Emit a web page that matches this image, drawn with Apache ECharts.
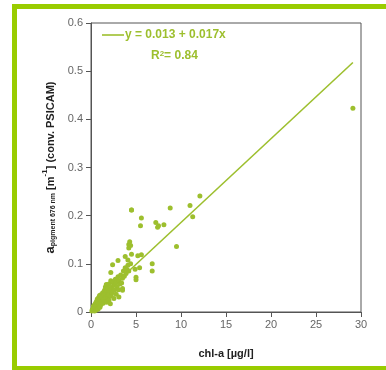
<!DOCTYPE html>
<html>
<head>
<meta charset="utf-8">
<style>
  html, body { margin: 0; padding: 0; background: #fff; }
  #chart { width: 386px; height: 370px; }
</style>
<script src="https://cdn.jsdelivr.net/npm/echarts@6/dist/echarts.min.js"></script>
</head>
<body>
<div id="chart"></div>
<script>
// axis ticks
const xTicks = [0, 5, 10, 15, 20, 25, 30]
const yTicks = [0, 0.1, 0.2, 0.3, 0.4, 0.5, 0.6]

// chl-a [µg/l] vs a_pigment 676 nm [m-1]
const chlA = [
  0.1, 0.15, 0.2, 0.25, 0.3, 0.3, 0.35, 0.4, 0.4, 0.45, 0.5, 0.5, 0.55, 0.6, 0.6, 0.65, 0.7, 0.7, 0.75, 0.8, 0.8, 0.85, 0.9, 0.9, 0.95, 1.0, 1.0,
  1.05, 1.1, 1.1, 1.2, 1.25, 1.3, 1.35, 1.4, 1.45, 1.5, 1.55, 1.6, 1.6, 1.65, 1.7, 1.75, 1.8, 1.85, 1.9, 1.95, 2.0, 2.0,
  2.1, 2.15, 2.2, 2.25, 2.3, 2.35, 2.4, 2.5, 2.55, 2.6, 2.7, 2.75, 2.8, 2.9, 3.0, 3.05, 3.1,
  3.2, 3.3, 3.4, 3.5, 3.5, 3.6, 3.7, 3.8, 3.9, 4.0, 4.1, 4.2, 4.4,
  2.2, 2.4, 3.0, 3.1, 3.5, 3.8, 4.1, 4.5, 4.9, 5.0, 5.0, 5.4, 5.2, 5.6, 4.5,
  4.2, 4.3, 4.4, 4.2, 6.8, 6.8, 9.5, 5.5, 5.6, 4.5, 7.2, 7.4, 7.5, 8.1, 8.8, 11.0, 11.3, 12.1, 29.1
]
const aPig = [
  0.002, 0.005, 0.003, 0.008, 0.004, 0.012, 0.007, 0.002, 0.015, 0.010, 0.006, 0.018, 0.013, 0.004, 0.022, 0.009, 0.016, 0.027, 0.012, 0.020, 0.006, 0.030, 0.014, 0.024, 0.034, 0.010, 0.019,
  0.028, 0.036, 0.015, 0.022, 0.031, 0.040, 0.018, 0.027, 0.035, 0.045, 0.024, 0.052, 0.031, 0.038, 0.057, 0.020, 0.043, 0.030, 0.050, 0.036, 0.025, 0.058,
  0.044, 0.017, 0.065, 0.033, 0.050, 0.040, 0.062, 0.055, 0.028, 0.045, 0.068, 0.060, 0.037, 0.052, 0.073, 0.046, 0.065,
  0.058, 0.077, 0.060, 0.070, 0.045, 0.085, 0.074, 0.092, 0.080, 0.088, 0.097, 0.085, 0.100,
  0.082, 0.098, 0.107, 0.031, 0.049, 0.115, 0.108, 0.120, 0.089, 0.072, 0.067, 0.092, 0.117, 0.119, 0.212,
  0.140, 0.146, 0.138, 0.133, 0.100, 0.085, 0.136, 0.179, 0.195, 0.212, 0.186, 0.176, 0.179, 0.181, 0.216, 0.221, 0.198, 0.241, 0.423
]

// regression line as drawn
const fitX = [0, 29.1]
const fitY = [0.012, 0.518]

const green = '#9dbf2e'
const axisGrey = '#555'

const chart = echarts.init(document.getElementById('chart'))
const option = {
  animation: false,
  backgroundColor: '#fff',
  textStyle: { fontFamily: 'Liberation Sans, Arial, sans-serif' },
  grid: {
    left: 91, top: 23, right: 25, bottom: 58,
    show: true, borderColor: axisGrey, borderWidth: 1
  },
  legend: {
    left: 97, top: 24,
    icon: 'rect',
    itemWidth: 22, itemHeight: 1.6, itemGap: 2,
    data: ['y = 0.013 + 0.017x'],
    textStyle: { color: green, fontWeight: 'bold', fontSize: 12, padding: [0, 0, 0, -4] }
  },
  xAxis: {
    type: 'value',
    min: xTicks[0], max: xTicks[xTicks.length - 1], interval: 5,
    splitLine: { show: false },
    axisLine: { lineStyle: { color: axisGrey } },
    axisTick: { length: 5, lineStyle: { color: axisGrey } },
    axisLabel: { color: '#666', fontSize: 11, margin: 7 },
    name: 'chl-a [µg/l]',
    nameLocation: 'middle',
    nameGap: 36,
    nameTextStyle: { color: '#222', fontWeight: 'bold', fontSize: 11 }
  },
  yAxis: {
    type: 'value',
    min: yTicks[0], max: yTicks[yTicks.length - 1], interval: 0.1,
    splitLine: { show: false },
    axisLine: { lineStyle: { color: axisGrey } },
    axisTick: { length: 5, lineStyle: { color: axisGrey } },
    axisLabel: { color: '#666', fontSize: 11, margin: 8 },
    name: '{a|a}{sub|pigment 676 nm}{b| [m}{sup|-1}{b|] (conv. PSICAM)}',
    nameLocation: 'middle',
    nameRotate: 90,
    nameGap: 31,
    nameTextStyle: {
      color: '#222',
      rich: {
        a: { fontWeight: 'bold', fontSize: 13, color: '#222', lineHeight: 16, verticalAlign: 'bottom' },
        sub: { fontWeight: 'bold', fontSize: 7, color: '#222', verticalAlign: 'bottom', padding: [6, 0, 0, 0] },
        b: { fontWeight: 'bold', fontSize: 11, color: '#222', verticalAlign: 'bottom' },
        sup: { fontWeight: 'bold', fontSize: 8, color: '#222', verticalAlign: 'top' }
      }
    }
  },
  graphic: [
    { type: 'rect', shape: { x: 12, y: 4, width: 374, height: 5 }, style: { fill: '#99cc00' } },
    { type: 'rect', shape: { x: 12, y: 4, width: 5, height: 366 }, style: { fill: '#99cc00' } },
    { type: 'rect', shape: { x: 12, y: 366, width: 374, height: 4 }, style: { fill: '#99cc00' } },
    {
      type: 'text', left: 151, top: 50,
      style: {
        text: '{r|R}{s|2}{r|= 0.84}',
        rich: {
          r: { fill: green, fontWeight: 'bold', fontSize: 12, fontFamily: 'Liberation Sans, Arial', verticalAlign: 'bottom' },
          s: { fill: green, fontWeight: 'bold', fontSize: 8, fontFamily: 'Liberation Sans, Arial', verticalAlign: 'top' }
        }
      }
    }
  ],
  series: [
    {
      name: 'y = 0.013 + 0.017x',
      type: 'line',
      data: fitX.map((x, i) => [x, fitY[i]]),
      symbol: 'none',
      lineStyle: { color: green, width: 1.6 },
      itemStyle: { color: green },
      z: 3
    },
    {
      name: 'data',
      type: 'scatter',
      data: chlA.map((x, i) => [x, aPig[i]]),
      symbolSize: 5,
      itemStyle: { color: green, opacity: 1 },
      z: 2
    }
  ]
}
chart.setOption(option)
</script>
</body>
</html>
